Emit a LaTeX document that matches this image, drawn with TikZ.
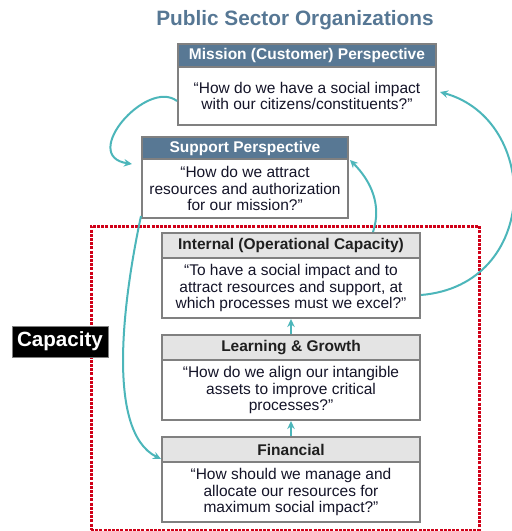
\documentclass[tikz,border=0pt]{standalone}
\usepackage{fontspec}
\setmainfont{Liberation Sans}
\usetikzlibrary{arrows.meta,calc}
\definecolor{ttl}{RGB}{86,119,148}
\definecolor{hdrdark}{RGB}{88,120,148}
\definecolor{bord}{RGB}{128,128,128}
\definecolor{hdrlight}{RGB}{228,228,228}
\definecolor{teal}{RGB}{76,182,186}
\definecolor{capred}{RGB}{208,0,24}
\definecolor{bodytxt}{RGB}{20,20,40}
\tikzset{
  boxbase/.style={draw=bord, line width=2pt, inner sep=0pt, align=center},
  darkhdr/.style={boxbase, fill=hdrdark, text=white, font=\fontsize{15.5}{17}\selectfont\bfseries},
  lighthdr/.style={boxbase, fill=hdrlight, text=black!88, font=\fontsize{15.5}{17}\selectfont\bfseries},
  bodybox/.style={boxbase, fill=white, text=bodytxt, font=\fontsize{15.5}{16.7}\selectfont},
  flow/.style={draw=teal, line width=2pt, -{Stealth[length=8pt,width=7.5pt]}},
}
\begin{document}
\begin{tikzpicture}[x=1pt,y=-1pt]
\useasboundingbox (0,0) rectangle (512,531);
% title
\node[text=ttl, font=\fontsize{20.8}{24}\selectfont\bfseries] (title) at (295,20) {Public Sector Organizations};
% capacity frame
\node[draw=capred, line width=3pt, dash pattern=on 3pt off 1.2pt, minimum width=388pt, minimum height=304pt, inner sep=0pt] (capframe) at (285,378) {};
\node[fill=black, draw=black!50, line width=0.6pt, text=white, font=\fontsize{20.6}{24}\selectfont\bfseries, minimum width=96pt, minimum height=31pt, inner sep=0pt] (caplabel) at (60,341.5) {Capacity};
% mission
\node[darkhdr, minimum width=258pt, minimum height=23pt] (mh) at (307,55.5) {Mission (Customer) Perspective};
\node[bodybox, minimum width=258pt, minimum height=58pt] (mb) at (307,96) {“How do we have a social impact\\with our citizens/constituents?”};
% support
\node[darkhdr, minimum width=206pt, minimum height=22pt] (sh) at (245,148) {Support Perspective};
\node[bodybox, minimum width=206pt, minimum height=59pt] (sb) at (245,188.5) {“How do we attract\\resources and authorization\\for our mission?”};
% internal
\node[lighthdr, minimum width=258pt, minimum height=25pt] (ih) at (291,245.5) {Internal (Operational Capacity)};
\node[bodybox, minimum width=258pt, minimum height=60pt] (ib) at (291,288) {“To have a social impact and to\\attract resources and support, at\\which processes must we excel?”};
% learning
\node[lighthdr, minimum width=258pt, minimum height=25pt] (lh) at (291,347.5) {Learning \& Growth};
\node[bodybox, minimum width=258pt, minimum height=60pt] (lb) at (291,390) {“How do we align our intangible\\assets to improve critical\\processes?”};
% financial
\node[lighthdr, minimum width=258pt, minimum height=25pt] (fh) at (291,449.5) {Financial};
\node[bodybox, minimum width=258pt, minimum height=60pt] (fb) at (291,492) {“How should we manage and\\allocate our resources for\\maximum social impact?”};
% connectors
\draw[flow] ([yshift=-5pt]mb.west) .. controls +(-30,-23) and +(-53,-8) .. ([shift={(-9pt,-4pt)}]sh.south west);
\draw[flow] ([yshift=3pt]sb.south west) .. controls +(-16,75) and +(-57,-28) .. ([yshift=4pt]fh.south west);
\draw[flow] ([xshift=82pt]ih.north) .. controls +(9,-27) and +(21,21) .. ([xshift=1pt]sh.south east);
\draw[flow] ([yshift=-7pt]ib.east) .. controls +(120,-10) and +(101,28) .. ([shift={(3pt,4pt)}]mb.east);
\draw[flow] (lh.north) -- (ib.south);
\draw[flow] (fh.north) -- (lb.south);
\end{tikzpicture}
\end{document}
